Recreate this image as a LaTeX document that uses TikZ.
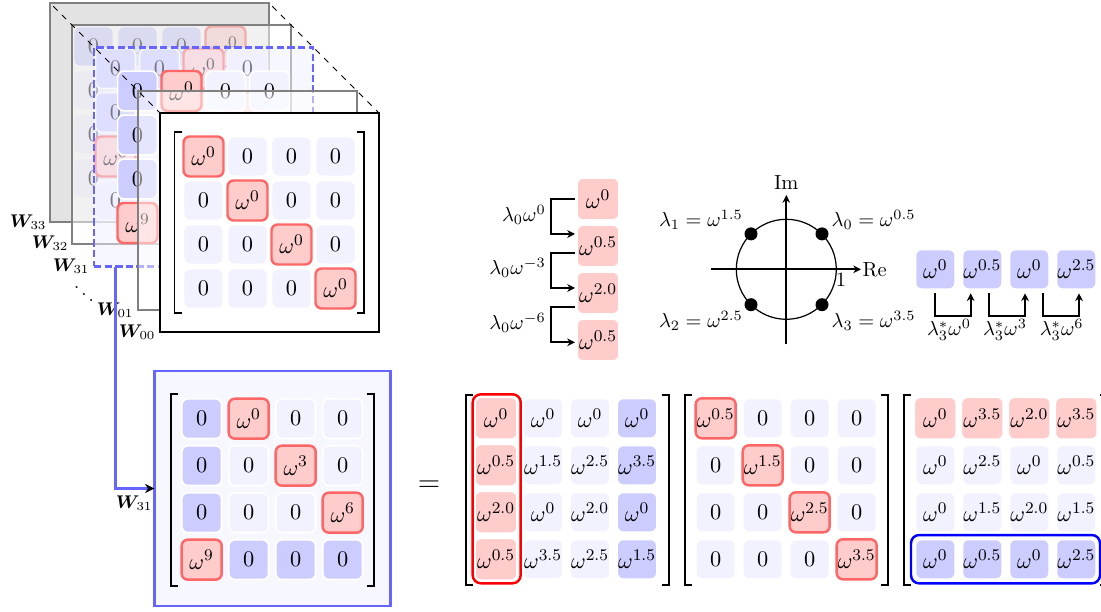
\documentclass[tikz,border=0pt]{standalone}
\usepackage{amsmath}
\usepackage{bm}
\usetikzlibrary{arrows.meta}
\def\u{0.49pt}
\newcommand{\wx}[1]{$\omega^{#1}$}
\newcommand{\Wl}[1]{\small$\bm{W}_{#1}$}
\tikzset{
  x=\u,y=-\u,
  cellbase/.style={rectangle,rounded corners=3pt,inner sep=0pt,outer sep=0pt,font=\fontsize{10.95}{13}\selectfont},
  cl/.style={cellbase,fill=blue!5,draw=white,line width=.8pt,minimum size=39.7*\u},
  cb/.style={cellbase,fill=blue!20,draw=white,line width=.8pt,minimum size=39.7*\u},
  cp/.style={cellbase,fill=red!20,draw=white,line width=.8pt,minimum size=42*\u},
  cr/.style={cellbase,fill=red!20,draw=red!60,line width=1.2pt,minimum size=40*\u},
  framebox/.style={rectangle,inner sep=0pt,outer sep=0pt,minimum size=219*\u},
  grayframe/.style={framebox,draw=black!50,line width=.8pt},
  conn/.style={line width=.85pt,-{Stealth[length=3.8pt,width=3.8pt,inset=1.2pt]}},
  brk/.style={line width=.8pt,black},
  lbl/.style={inner sep=0pt,outer sep=0pt},
  selbox/.style={rectangle,inner sep=0pt,outer sep=0pt,line width=1.2pt,rounded corners=4pt},
}
% name, first column x, first row y, pitch, 16 style/text entries
\newcommand{\Mat}[5]{%
  \foreach \sty/\txt [count=\ii from 0] in {#5}{%
    \pgfmathtruncatemacro\cc{mod(\ii,4)}%
    \pgfmathtruncatemacro\rr{\ii/4}%
    \node[\sty] (#1-\ii) at ({#2+\cc*#4},{#3+\rr*#4}) {\txt};
  }%
}
\newcommand{\Brk}[4]{%
  \draw[brk] (#1+7,#3) -- (#1,#3) -- (#1,#4) -- (#1+7,#4);
  \draw[brk] (#2-7,#3) -- (#2,#3) -- (#2,#4) -- (#2-7,#4);
}
\begin{document}
\begin{tikzpicture}
\useasboundingbox (0,0) rectangle (1101,612);

% ---------- W33 layer
\node[framebox,fill=white] (f33b) at (159.5,112.5) {};
\node[cb] (a1) at (93.5,46.5) {0};
\node[cb] (a2) at (137.5,46.5) {0};
\node[cb] (a3) at (181.5,46.5) {0};
\node[cr] (a4) at (225.5,46.5) {\wx{0}};
\node[cl] (a5) at (93.5,90.5) {0};
\node[cl] (a6) at (93.5,134.5) {0};
\node[cl] (a7) at (93.5,178.5) {0};
\node[grayframe,fill=black,fill opacity=.11] (f33) at (159.5,112.5) {};

% ---------- W32 layer
\node[grayframe,fill=white,fill opacity=.5] (f32) at (181.5,134.5) {};
\node[cb] (b1) at (115.5,68.5) {0};
\node[cb] (b2) at (159.5,68.5) {0};
\node[cr] (b3) at (203.5,68.5) {\wx{0}};
\node[cl] (b4) at (247.5,68.5) {0};
\node[cb] (b5) at (115.5,112.5) {0};
\node[cr] (b6) at (115.5,156.5) {\wx{0}};
\node[cl] (b7) at (115.5,200.5) {0};
\node[cr] (b8) at (247.5,112.5) {};

% ---------- W31 layer
\node[framebox,draw=blue!60,line width=1.4pt,dash pattern=on 3.6pt off 1.6pt,fill=blue!6,fill opacity=.5] (f31) at (203.5,157) {};
\node[cb] (c1) at (137.5,91) {0};
\node[cr] (c2) at (181.5,91) {\wx{0}};
\node[cl] (c3) at (225.5,91) {0};
\node[cl] (c4) at (269.5,91) {0};
\node[cb] (c5) at (137.5,135) {0};
\node[cb] (c6) at (137.5,179) {0};
\node[cr] (c7) at (137.5,223) {\wx{9}};

% ---------- W01 layer
\node[grayframe,fill=white,fill opacity=.5] (f01) at (247.5,200.5) {};

% ---------- W00 layer
\node[framebox,draw=black,line width=.8pt,fill=white] (f00) at (269.5,222.5) {};
\draw[line width=.4pt,dashed,shorten <=2.2pt] (f33.north west) -- (f00.north west);
\draw[line width=.4pt,dashed,shorten <=2.2pt] (f33.north east) -- (f00.north east);
\Mat{d}{203.5}{156.5}{44}{cr/\wx{0},cl/0,cl/0,cl/0,cl/0,cr/\wx{0},cl/0,cl/0,cl/0,cl/0,cr/\wx{0},cl/0,cl/0,cl/0,cl/0,cr/\wx{0}}
\Brk{174.5}{364}{132}{312.7}

% ---------- frame labels
\node[lbl,anchor=east] (l33) at (46.5,222) {\Wl{33}};
\node[lbl,anchor=east] (l32) at (68.5,243.5) {\Wl{32}};
\node[lbl,anchor=east] (l31) at (89.5,266) {\Wl{31}};
\node[lbl] (ldots) at (84,288) {\small$\ddots$};
\node[lbl,anchor=east] (l01) at (133.5,310) {\Wl{01}};
\node[lbl,anchor=east] (l00) at (155.5,332) {\Wl{00}};

% ---------- lower W31
\node[rectangle,inner sep=0pt,outer sep=0pt,draw=blue!60,line width=1.2pt,fill=blue!3,minimum width=236.4*\u,minimum height=235*\u] (big) at (272.5,488.5) {};
\coordinate (bs) at (115.7,267);
\draw[draw=blue!60,line width=1.3pt,-{Stealth[length=4.5pt,width=4.5pt,inset=1.4pt,black]}] (bs) |- (big.west);
\node[lbl,anchor=east] (lb) at (152.5,503) {\Wl{31}};
\Mat{e}{201.7}{418.7}{47}{cb/0,cr/\wx{0},cl/0,cl/0,cb/0,cl/0,cr/\wx{3},cl/0,cb/0,cl/0,cl/0,cr/\wx{6},cr/\wx{9},cb/0,cb/0,cb/0}
\Brk{171}{373.7}{394.3}{585.7}
\node[lbl] (eq) at (429,486) {\Large $=$};

% ---------- right matrices
\Mat{m}{496}{418.3}{47}{cp/\wx{0},cl/\wx{0},cl/\wx{0},cb/\wx{0},cp/\wx{0.5},cl/\wx{1.5},cl/\wx{2.5},cb/\wx{3.5},cp/\wx{2.0},cl/\wx{0},cl/\wx{2.0},cb/\wx{0},cp/\wx{0.5},cl/\wx{3.5},cl/\wx{2.5},cb/\wx{1.5}}
\Brk{465.7}{668.7}{395}{585}
\Mat{n}{715.7}{418.3}{47}{cr/\wx{0.5},cl/0,cl/0,cl/0,cl/0,cr/\wx{1.5},cl/0,cl/0,cl/0,cl/0,cr/\wx{2.5},cl/0,cl/0,cl/0,cl/0,cr/\wx{3.5}}
\Brk{685.3}{888}{395}{585}
\Mat{p}{935.3}{418.3}{47}{cp/\wx{0},cp/\wx{3.5},cp/\wx{2.0},cp/\wx{3.5},cl/\wx{0},cl/\wx{2.5},cl/\wx{0},cl/\wx{0.5},cl/\wx{0},cl/\wx{1.5},cl/\wx{2.0},cl/\wx{1.5},cb/\wx{0},cb/\wx{0.5},cb/\wx{0},cb/\wx{2.5}}
\Brk{904.3}{1107}{395}{585}
\node[selbox,draw=red,minimum width=48*\u,minimum height=189*\u] (sel1) at (496.7,488.8) {};
\node[selbox,draw=blue,minimum width=189*\u,minimum height=48.3*\u] (sel2) at (1005.5,559.2) {};

% ---------- red stack
\node[cp] (r0) at (598,199) {\wx{0}};
\node[cp] (r1) at (598,246) {\wx{0.5}};
\node[cp] (r2) at (598,293) {\wx{2.0}};
\node[cp] (r3) at (598,340) {\wx{0.5}};
\coordinate (ra) at (575,199);  \coordinate (rb) at (575,234);
\coordinate (rc) at (575,253);  \coordinate (rd) at (575,288);
\coordinate (re) at (575,306.7);\coordinate (rf) at (575,342.3);
\draw[conn] (ra) -- ++(-24,0) |- (rb);
\draw[conn] (rc) -- ++(-24,0) |- (rd);
\draw[conn] (re) -- ++(-24,0) |- (rf);
\node[lbl,anchor=east] (t0) at (545.7,215) {$\lambda_0\omega^{0}$};
\node[lbl,anchor=east] (t1) at (545.7,268) {$\lambda_0\omega^{-3}$};
\node[lbl,anchor=east] (t2) at (545.7,322.7) {$\lambda_0\omega^{-6}$};

% ---------- unit circle
\coordinate (o) at (786.3,269.3);
\coordinate (axw) at (711,269.3);  \coordinate (axe) at (861,269.3);
\coordinate (axs) at (786.3,344.5);\coordinate (axn) at (786.3,195);
\draw[line width=.6pt] (o) circle[radius=50];
\draw[conn] (axw) -- (axe);
\draw[conn] (axs) -- (axn);
\foreach \n/\xx/\yy in {q0/822/233.9,q1/751/233.9,q2/751/304.7,q3/822/304.7}{
  \node[circle,fill=black,inner sep=0pt,outer sep=0pt,minimum size=13*\u] (\n) at (\xx,\yy) {};
}
\node[lbl,anchor=west] (reL) at (862.7,269.5) {$\mathrm{Re}$};
\node[lbl] (im) at (786.3,183) {$\mathrm{Im}$};
\node[lbl] (one) at (841,280) {$1$};
\node[lbl,anchor=west] (lam0) at (831.7,220) {$\lambda_0=\omega^{0.5}$};
\node[lbl,anchor=west] (lam3) at (831.7,320.7) {$\lambda_3=\omega^{3.5}$};
\node[lbl,anchor=west] (lam1) at (659,220) {$\lambda_1=\omega^{1.5}$};
\node[lbl,anchor=west] (lam2) at (659,320.7) {$\lambda_2=\omega^{2.5}$};

% ---------- blue row
\node[cb] (s0) at (935.3,269.3) {\wx{0}};
\node[cb] (s1) at (982.3,269.3) {\wx{0.5}};
\node[cb] (s2) at (1029.3,269.3) {\wx{0}};
\node[cb] (s3) at (1076.3,269.3) {\wx{2.5}};
\coordinate (sa) at (935.3,293.3); \coordinate (sb) at (970.7,293.3);
\coordinate (sc) at (989.3,293.3); \coordinate (sd) at (1025,293.3);
\coordinate (se) at (1043.3,293.3);\coordinate (sf) at (1079,293.3);
\draw[conn] (sa) -- ++(0,23) -| (sb);
\draw[conn] (sc) -- ++(0,23) -| (sd);
\draw[conn] (se) -- ++(0,23) -| (sf);
\node[lbl] (u0) at (949,330) {$\lambda_3^{*}\omega^{0}$};
\node[lbl] (u1) at (1005,330) {$\lambda_3^{*}\omega^{3}$};
\node[lbl] (u2) at (1061.7,330) {$\lambda_3^{*}\omega^{6}$};
\end{tikzpicture}
\end{document}
